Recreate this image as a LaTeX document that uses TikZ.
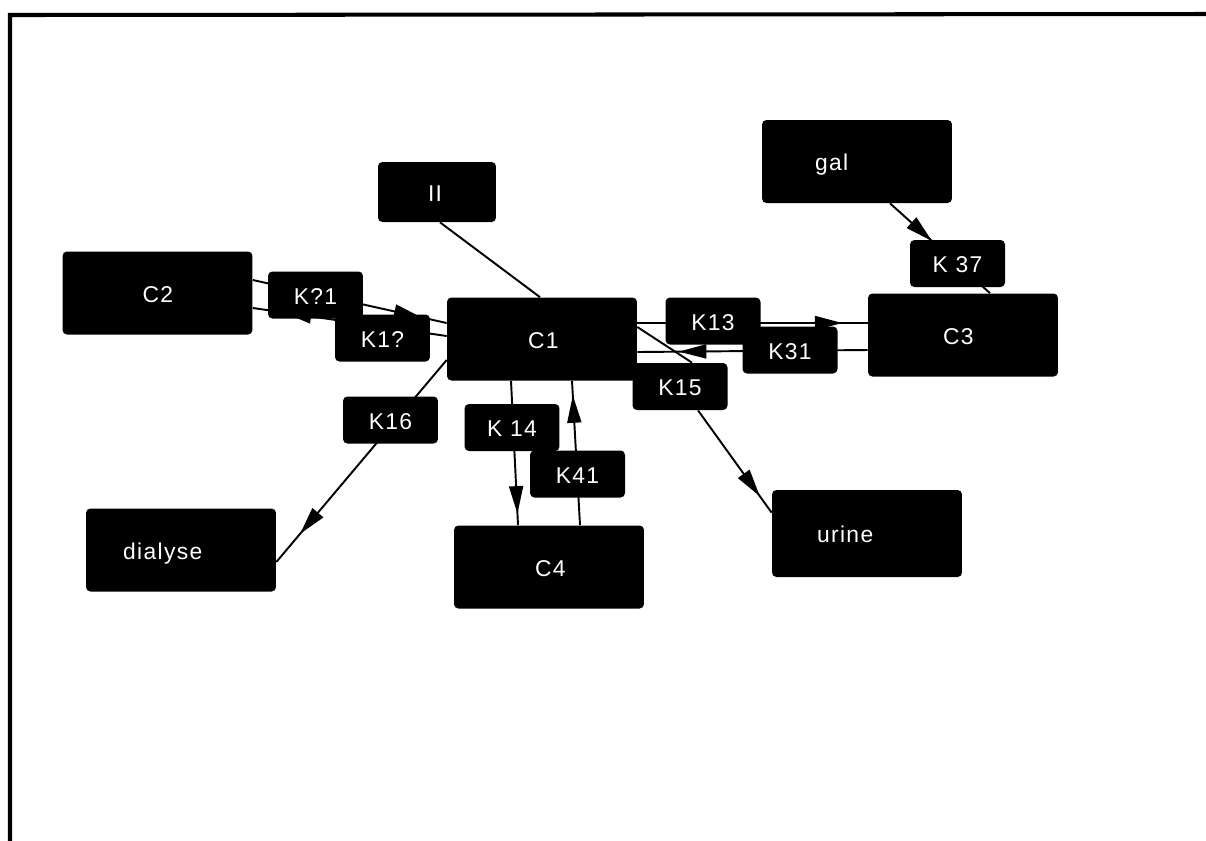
\documentclass[tikz,border=0pt]{standalone}
\usepackage{fontspec}
\setmainfont{Liberation Sans}
\newfontfamily\boxfont[LetterSpace=6]{Liberation Sans}
\usetikzlibrary{calc,arrows.meta,decorations.markings,backgrounds}

\tikzset{
  compartment/.style={fill=black, rounded corners=2.5pt, inner xsep=0pt, inner ysep=0pt,
    minimum width=3.8cm, minimum height=1.66cm, text width=3.8cm, align=left,
    text=white, font=\boxfont\fontsize{13}{15}\selectfont,
    text height=0.37cm, text depth=0pt},
  rate/.style={fill=black, rounded corners=2.5pt, inner sep=0pt,
    minimum width=1.9cm, minimum height=0.94cm,
    text=white, font=\boxfont\fontsize{13}{15}\selectfont,
    text height=0.37cm, text depth=0pt},
  flow/.style={draw=black, line width=1.1pt},
  tip/.style={flow, postaction={decorate}, decoration={markings,
    mark=at position #1 with {\arrow{Triangle[length=0.55cm, width=0.28cm]}}}},
  frameline/.style={draw=black, line width=2.3pt}
}

\begin{document}
\begin{tikzpicture}[x=0.02cm, y=-0.02cm]
  \useasboundingbox (0,0) rectangle (1206,840);

  % outer frame (left and top edges)
  \coordinate (fb) at (10,842);
  \coordinate (ft) at (10,15);
  \coordinate (fr) at (1208,14);
  \draw[frameline] (fb) -- (ft) -- (fr);

  % compartments
  \node[compartment] (gal)     at (857,161.5) {\hspace*{1.06cm}gal};
  \node[compartment, minimum width=2.36cm, text width=2.36cm, minimum height=1.2cm]
                     (II)      at (437,192)   {\hspace*{1.0cm}II};
  \node[compartment] (C2)      at (157.5,293) {\hspace*{1.6cm}C2};
  \node[compartment] (C1)      at (542,339)   {\hspace*{1.62cm}C1};
  \node[compartment] (C3)      at (963,335)   {\hspace*{1.5cm}C3};
  \node[compartment] (dialyse) at (181,550)   {\hspace*{0.74cm}dialyse};
  \node[compartment] (C4)      at (549,567)   {\hspace*{1.62cm}C4};
  \node[compartment, minimum height=1.74cm] (urine) at (867,533.5) {\hspace*{0.9cm}urine};

  % rate constants
  \node[rate] (K37) at (957.5,263.5) {K 37};
  \node[rate] (K21) at (315.5,295)   {K?1};
  \node[rate] (K12) at (382.5,338)   {K1?};
  \node[rate] (K13) at (713,321)     {K13};
  \node[rate] (K31) at (790,350)     {K31};
  \node[rate] (K15) at (680,386.5)   {K15};
  \node[rate] (K16) at (390.5,420)   {K16};
  \node[rate] (K14) at (512,427.5)   {K 14};
  \node[rate] (K41) at (577.5,474)   {K41};

  % transfers, drawn beneath the boxes
  \begin{scope}[on background layer]
    \draw[tip=0.87] ($(C2.east)+(0,-13)$) -- ($(C1.west)+(0,-16)$);
    \draw[tip=0.84] ($(C1.west)+(0,-3)$) -- ($(C2.east)+(0,15)$);
    \draw[flow] ($(II.south)+(3,0)$) -- ($(C1.north)+(-2,0)$);
    \draw[tip=0.86] ($(C1.west)+(0,21)$) -- ($(dialyse.east)+(0,12)$);
    \draw[tip=0.92] ($(C1.south)+(-31,0)$) -- ($(C4.north)+(-31,0)$);
    \draw[tip=0.90] ($(C4.north)+(31,0)$) -- ($(C1.south)+(30,0)$);
    \draw[tip=0.89] ($(C1.east)+(0,-16)$) -- ($(C3.west)+(0,-12)$);
    \draw[tip=0.82] ($(C3.west)+(0,15)$) -- ($(C1.east)+(0,13)$);
    \draw[flow] ($(C1.east)+(0,-12)$) -- ($(K15.north)+(12,0)$);
    \draw[tip=0.84] ($(K15.south)+(18,0)$) -- ($(urine.north west)+(0,23)$);
    \draw[tip=0.42] ($(gal.south)+(33,0)$) -- ($(C3.north)+(27,0)$);
  \end{scope}
\end{tikzpicture}
\end{document}
